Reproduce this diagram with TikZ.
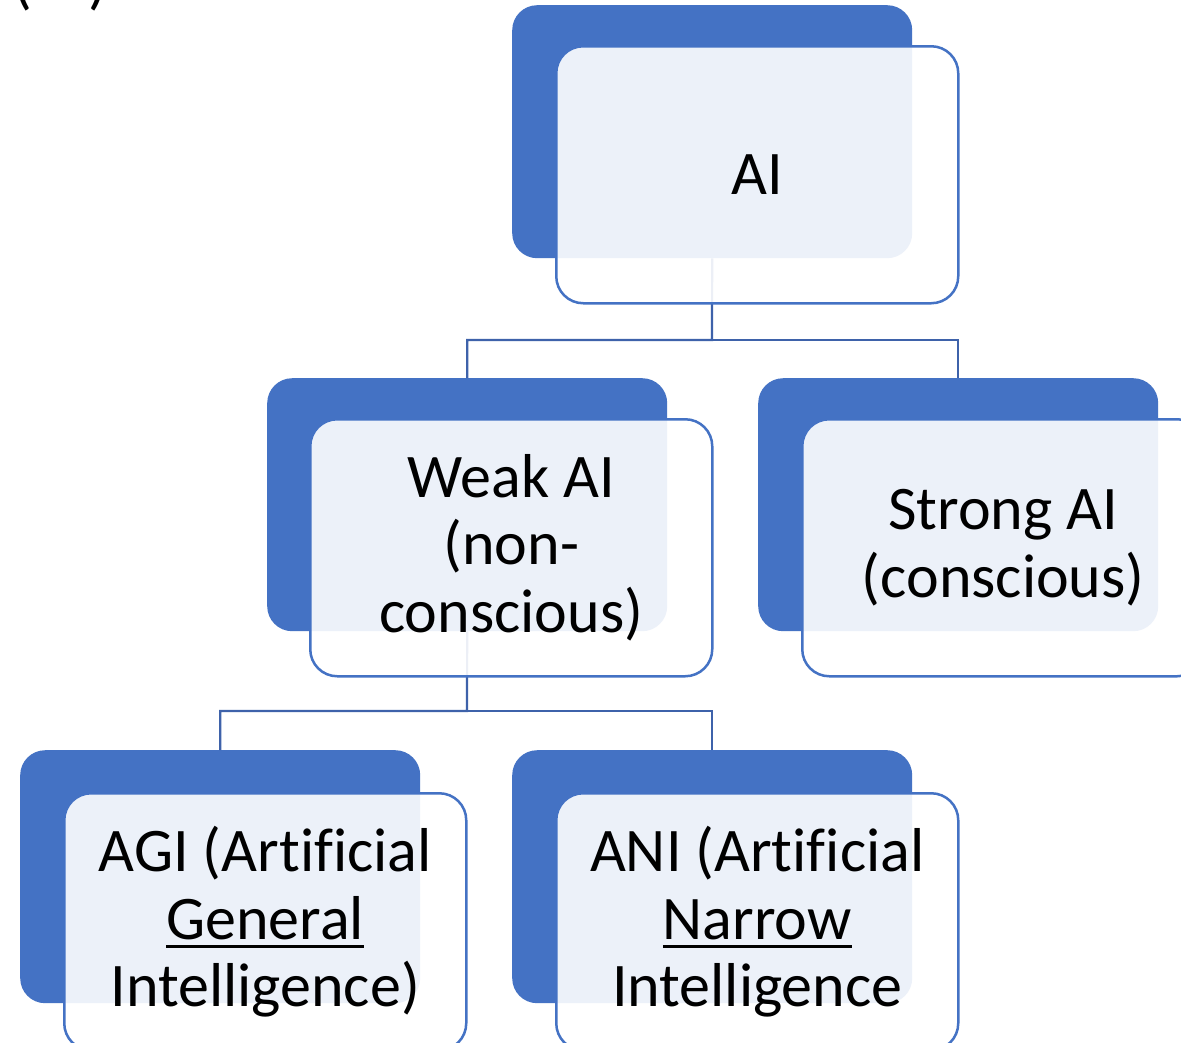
\documentclass[tikz,border=0pt]{standalone}
\usepackage{fontspec}
\setmainfont[Ligatures=NoCommon]{Carlito}
\definecolor{acc}{RGB}{68,114,196}
\definecolor{linkc}{RGB}{62,98,170}
\newcommand\myul[1]{\setbox0\hbox{#1}\rlap{\rule[-9pt]{\wd0}{3pt}}\box0}
\begin{document}
\begin{tikzpicture}[x=1pt,y=-1pt,
  darkbox/.style={draw=none,fill=acc,rounded corners=25pt,minimum width=400pt,minimum height=253pt,anchor=north west,inner sep=0pt},
  lightbox/.style={draw=acc,line width=2.5pt,fill=white,fill opacity=0.9,draw opacity=1,text opacity=1,rounded corners=27pt,minimum width=402pt,minimum height=257pt,anchor=north west,inner sep=0pt,align=center,font=\fontsize{62}{67.5}\selectfont},
  link/.style={draw=linkc,line width=2.2pt},
  frag/.style={anchor=base west,inner sep=0pt,font=\fontsize{62}{67}\selectfont}]
\useasboundingbox (0,0) rectangle (1181,1042);
\clip (0,0) rectangle (1181,1042);
\fill[white] (0,0) rectangle (1181,1042);
% cut-off fragments at the top edge
\node[frag] (f1) at (13,2) {(};
\node[frag] (f2) at (88,2) {)};
\node[frag] (f3) at (683,-12) {)};
% dark boxes
\node[darkbox] (aiD) at (512,5) {};
\node[darkbox] (weakD) at (267,378) {};
\node[darkbox] (strongD) at (758,378) {};
\node[darkbox] (agiD) at (20,750) {};
\node[darkbox] (aniD) at (512,750) {};
% connectors
\coordinate (j1) at (712,340);
\coordinate (j2) at (467,711);
\draw[link] (aiD.south) -- (j1) -| (weakD.north);
\draw[link] (j1) -| (strongD.north);
\draw[link] (weakD.south) -- (j2) -| (agiD.north);
\draw[link] (j2) -| (aniD.north);
% light boxes
\node[lightbox] (ai) at (555,45) {AI};
\node[lightbox] (weak) at (309,418) {Weak AI\\(non-\\conscious)};
\node[lightbox] (strong) at (801,418) {Strong AI\\(conscious)};
\node[lightbox] (agi) at (63,792) {AGI (Artificial\\\myul{General}\\Intelligence)};
\node[lightbox] (ani) at (555,792) {ANI (Artificial\\\myul{Narrow}\\Intelligence};
\end{tikzpicture}
\end{document}
